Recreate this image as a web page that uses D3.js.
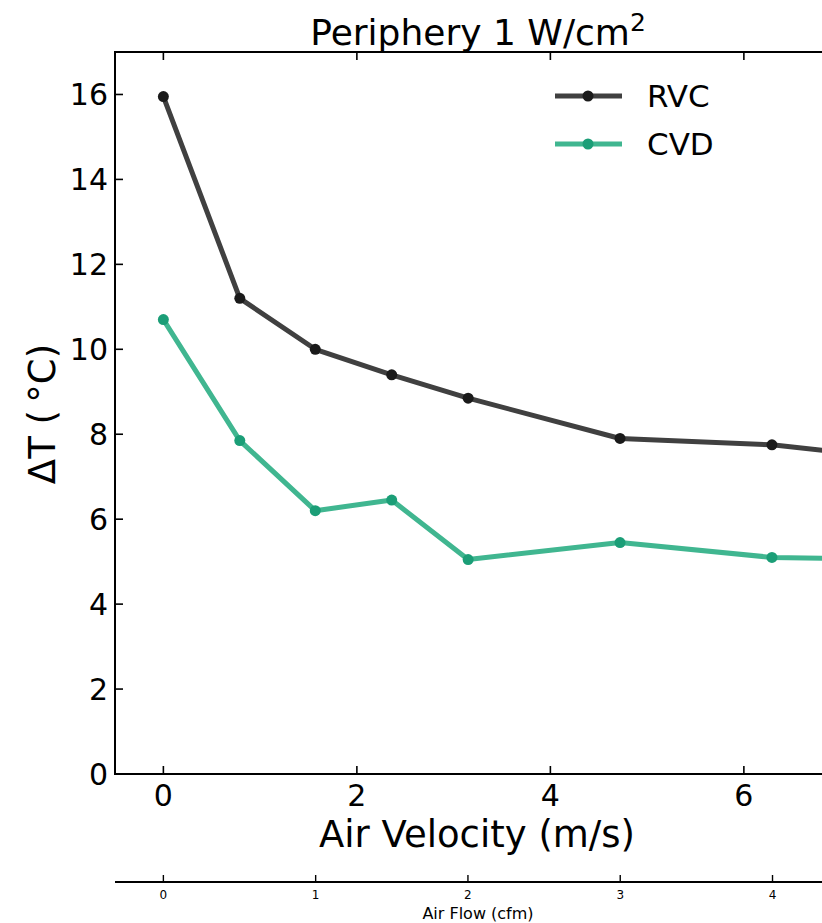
<!DOCTYPE html>
<html><head><meta charset="utf-8">
<script src="https://cdn.jsdelivr.net/npm/d3@7"></script>
<style>body{margin:0;background:#fff}svg{display:block}text{font-family:"DejaVu Sans",sans-serif;fill:#000}</style>
</head><body><svg id="c" width="822" height="923"></svg>
<script>
const velocity = [0, 0.79, 1.57, 2.36, 3.15, 4.72, 6.29, 7.87];
const rvc = [15.95, 11.2, 10.0, 9.4, 8.85, 7.9, 7.75, 7.36];
const cvd = [10.7, 7.85, 6.2, 6.45, 5.05, 5.45, 5.1, 5.04];
const seriesNames = ["RVC", "CVD"];
const xTicks = [0, 2, 4, 6];
const yTicks = [0, 2, 4, 6, 8, 10, 12, 14, 16];
const cfmTicks = [0, 1, 2, 3, 4];
const cfmPerVelocity = 1 / 1.574;

const svg = d3.select("#c");
const L = 115, T = 52, B = 774;
const x = d3.scaleLinear().domain([-0.5, 8.3]).range([L, L + 8.8 * 96.75]);
const R = x.range()[1];
const y = d3.scaleLinear().domain([0, 17]).range([B, T]);
const x2 = d3.scaleLinear().domain([-0.5 * cfmPerVelocity, 8.3 * cfmPerVelocity]).range(x.range());

// title
svg.append("text").attr("x", 478).attr("y", 45).attr("text-anchor", "middle")
  .style("font-size", "36px").html('Periphery 1 W/cm<tspan dy="-14" style="font-size:25px">2</tspan>');

// spines
const sp = svg.append("g").attr("stroke", "#000").attr("stroke-width", 2).attr("fill", "none");
sp.append("rect").attr("x", L).attr("y", T).attr("width", R - L).attr("height", B - T);

// ticks inward
const tk = svg.append("g").attr("stroke", "#000").attr("stroke-width", 1.6);
xTicks.forEach(v => {
  tk.append("line").attr("x1", x(v)).attr("x2", x(v)).attr("y1", B).attr("y2", B - 8);
  tk.append("line").attr("x1", x(v)).attr("x2", x(v)).attr("y1", T).attr("y2", T + 8);
});
yTicks.forEach(v => {
  tk.append("line").attr("x1", L).attr("x2", L + 8).attr("y1", y(v)).attr("y2", y(v));
});
svg.append("g").selectAll("text").data(xTicks).join("text")
  .attr("x", d => x(d)).attr("y", 806).attr("text-anchor", "middle").style("font-size", "30px").text(d => d);
svg.append("g").selectAll("text").data(yTicks).join("text")
  .attr("x", 108).attr("y", d => y(d) + 11).attr("text-anchor", "end").style("font-size", "30px").text(d => d);

svg.append("text").attr("x", 477).attr("y", 847).attr("text-anchor", "middle").style("font-size", "37px").text("Air Velocity (m/s)");
svg.append("text").attr("transform", "translate(55,414) rotate(-90)").attr("text-anchor", "middle").style("font-size", "37px").text("ΔT (\u2009°C)");

// lines
const pts = v => velocity.map((d, i) => [x(d), y(v[i])]);
const line = d3.line();
const styles = [
  {data: rvc, line: "#404040", mark: "#1a1a1a"},
  {data: cvd, line: "#40b690", mark: "#1b9e77"}
];
styles.forEach(s => {
  svg.append("path").attr("d", line(pts(s.data))).attr("fill", "none").attr("stroke", s.line)
    .attr("stroke-width", 5).attr("stroke-linejoin", "round").attr("stroke-linecap", "round");
  svg.append("g").selectAll("circle").data(pts(s.data)).join("circle")
    .attr("cx", d => d[0]).attr("cy", d => d[1]).attr("r", 5.5).attr("fill", s.mark);
});

// legend
styles.forEach((s, i) => {
  const ly = 96 + i * 48;
  svg.append("line").attr("x1", 555).attr("x2", 622).attr("y1", ly).attr("y2", ly).attr("stroke", s.line).attr("stroke-width", 5);
  svg.append("circle").attr("cx", 588).attr("cy", ly).attr("r", 5.5).attr("fill", s.mark);
  svg.append("text").attr("x", 647).attr("y", ly + 11).style("font-size", "31px").text(seriesNames[i]);
});

// secondary axis
const A2 = 882;
svg.append("line").attr("x1", L).attr("x2", R).attr("y1", A2).attr("y2", A2).attr("stroke", "#000").attr("stroke-width", 2);
cfmTicks.forEach(v => {
  svg.append("line").attr("x1", x2(v)).attr("x2", x2(v)).attr("y1", A2).attr("y2", A2 - 7).attr("stroke", "#000").attr("stroke-width", 1.4);
  svg.append("text").attr("x", x2(v)).attr("y", 899).attr("text-anchor", "middle").style("font-size", "12px").text(v);
});
svg.append("text").attr("x", 478).attr("y", 919).attr("text-anchor", "middle").style("font-size", "16px").text("Air Flow (cfm)");
</script></body></html>
